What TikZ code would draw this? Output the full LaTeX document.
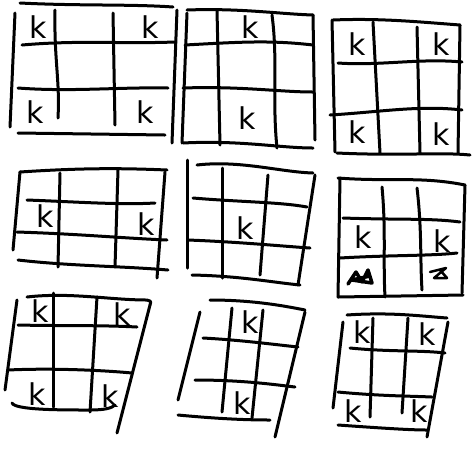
\documentclass[tikz,border=0pt]{standalone}
\usepackage{fontspec}
\setsansfont{DejaVu Sans}
\tikzset{
  pen/.style={line width=3pt, line cap=round, line join=round, black},
  kk/.style={font=\sffamily\fontsize{30}{30}\selectfont, inner sep=0pt}
}
\begin{document}
\begin{tikzpicture}[x=1pt,y=-1pt]
\useasboundingbox (0,0) rectangle (473,451);
% ---------- grid 1
\draw[pen] (20,3) .. controls (80,6) and (130,4) .. (173,7);
\draw[pen] (15,13) -- (10,127);
\draw[pen] (177,10) -- (172,143);
\draw[pen] (18,133) -- (165,135);
\draw[pen] (22,45) .. controls (80,40) and (120,44) .. (175,42);
\draw[pen] (18,88) .. controls (70,92) and (120,87) .. (168,88);
\draw[pen] (55,10) .. controls (54,60) and (60,80) .. (58,118);
\draw[pen] (113,13) -- (115,125);
\node[kk] (k1a) at (38,27) {k};
\node[kk] (k1b) at (150,27) {k};
\node[kk] (k1c) at (35,112) {k};
\node[kk] (k1d) at (145,112) {k};
% ---------- grid 2
\draw[pen] (187,10) .. controls (240,8) and (280,14) .. (313,15);
\draw[pen] (187,13) -- (182,143);
\draw[pen] (313,15) -- (315,140);
\draw[pen] (183,143) .. controls (240,140) and (280,148) .. (313,148);
\draw[pen] (185,45) .. controls (240,42) and (270,40) .. (313,45);
\draw[pen] (183,88) .. controls (240,86) and (280,92) .. (313,92);
\draw[pen] (217,10) -- (220,145);
\draw[pen] (272,15) .. controls (278,60) and (272,100) .. (277,148);
\node[kk] (k2a) at (250,27) {k};
\node[kk] (k2b) at (247,118) {k};
% ---------- grid 3
\draw[pen] (333,20) .. controls (380,18) and (420,22) .. (460,25);
\draw[pen] (332,20) -- (335,152);
\draw[pen] (460,25) -- (458,153);
\draw[pen] (337,153) .. controls (400,156) and (440,152) .. (470,155);
\draw[pen] (338,63) .. controls (380,66) and (420,58) .. (462,62);
\draw[pen] (330,115) .. controls (380,112) and (420,105) .. (462,110);
\draw[pen] (373,22) -- (380,153);
\draw[pen] (417,27) -- (420,153);
\node[kk] (k3a) at (357,44) {k};
\node[kk] (k3b) at (441,44) {k};
\node[kk] (k3c) at (357,132) {k};
\node[kk] (k3d) at (441,134) {k};
% ---------- grid 4
\draw[pen] (20,172) .. controls (80,168) and (120,168) .. (167,170);
\draw[pen] (20,172) -- (13,250);
\draw[pen] (165,172) -- (157,278);
\draw[pen] (18,260) .. controls (70,266) and (120,266) .. (168,270);
\draw[pen] (27,200) .. controls (80,202) and (120,205) .. (155,203);
\draw[pen] (17,232) .. controls (80,234) and (120,238) .. (167,240);
\draw[pen] (60,173) -- (58,267);
\draw[pen] (118,170) -- (115,267);
\node[kk] (k4a) at (45,216) {k};
\node[kk] (k4b) at (146,224) {k};
% ---------- grid 5
\draw[pen] (197,165) .. controls (240,160) and (280,172) .. (313,173);
\draw[pen] (187,160) -- (187,268);
\draw[pen] (315,175) -- (298,285);
\draw[pen] (192,275) .. controls (240,276) and (270,282) .. (300,285);
\draw[pen] (193,198) .. controls (240,202) and (280,202) .. (307,207);
\draw[pen] (188,240) .. controls (240,242) and (280,246) .. (310,248);
\draw[pen] (222,168) -- (222,278);
\draw[pen] (268,175) -- (260,275);
\node[kk] (k5a) at (245,228) {k};
% ---------- grid 6
\draw[pen] (338,178) .. controls (390,182) and (420,176) .. (465,185);
\draw[pen] (340,178) -- (338,297);
\draw[pen] (465,185) -- (462,293);
\draw[pen] (338,297) -- (463,295);
\draw[pen] (343,218) .. controls (400,220) and (430,218) .. (460,222);
\draw[pen] (340,258) .. controls (390,255) and (430,256) .. (457,253);
\draw[pen] (382,187) .. controls (386,230) and (383,260) .. (385,297);
\draw[pen] (417,188) .. controls (422,230) and (420,260) .. (422,290);
\node[kk] (k6a) at (363,237) {k};
\node[kk] (k6b) at (442,241) {k};
\draw[pen, line width=3.5pt] (348,284) -- (356,272) -- (362,282) -- (368,270) -- (372,283) -- (352,280) -- (370,276);
\draw[pen, line width=2.5pt] (430,272) -- (446,268) -- (434,278) -- (447,278) -- (440,270);
% ---------- grid 7
\draw[pen] (27,297) .. controls (70,292) and (110,300) .. (147,300) .. controls (152,301) and (151,303) .. (150,305);
\draw[pen] (17,300) -- (5,390);
\draw[pen] (150,305) -- (117,433);
\draw[pen] (12,403) .. controls (15,410) and (60,410) .. (90,410) .. controls (105,410) and (112,408) .. (115,405);
\draw[pen] (18,325) .. controls (60,326) and (100,325) .. (137,327);
\draw[pen] (8,370) .. controls (50,368) and (100,370) .. (132,373);
\draw[pen] (53,293) -- (53,407);
\draw[pen] (97,297) -- (90,412);
\node[kk] (k7a) at (40,311) {k};
\node[kk] (k7b) at (122,314) {k};
\node[kk] (k7c) at (37,394) {k};
\node[kk] (k7d) at (110,396) {k};
% ---------- grid 8
\draw[pen] (210,300) .. controls (250,300) and (280,305) .. (305,310);
\draw[pen] (200,312) -- (178,400);
\draw[pen] (305,312) -- (275,437);
\draw[pen] (178,415) .. controls (210,418) and (240,420) .. (270,420);
\draw[pen] (203,338) .. controls (240,340) and (270,344) .. (298,347);
\draw[pen] (195,380) .. controls (240,380) and (270,384) .. (295,387);
\draw[pen] (232,308) -- (222,412);
\draw[pen] (263,310) -- (252,418);
\node[kk] (k8a) at (250,322) {k};
\node[kk] (k8b) at (242,403) {k};
% ---------- grid 9
\draw[pen] (347,315) .. controls (390,312) and (420,316) .. (447,318);
\draw[pen] (343,322) -- (333,408);
\draw[pen] (448,322) -- (427,437);
\draw[pen] (338,425) .. controls (380,428) and (410,430) .. (427,430);
\draw[pen] (350,348) .. controls (390,352) and (420,350) .. (445,353);
\draw[pen] (338,392) .. controls (380,396) and (410,396) .. (432,397);
\draw[pen] (373,318) -- (370,417);
\draw[pen] (408,318) -- (402,413);
\node[kk] (k9a) at (362,332) {k};
\node[kk] (k9b) at (427,334) {k};
\node[kk] (k9c) at (353,411) {k};
\node[kk] (k9d) at (419,411) {k};
\end{tikzpicture}
\end{document}
